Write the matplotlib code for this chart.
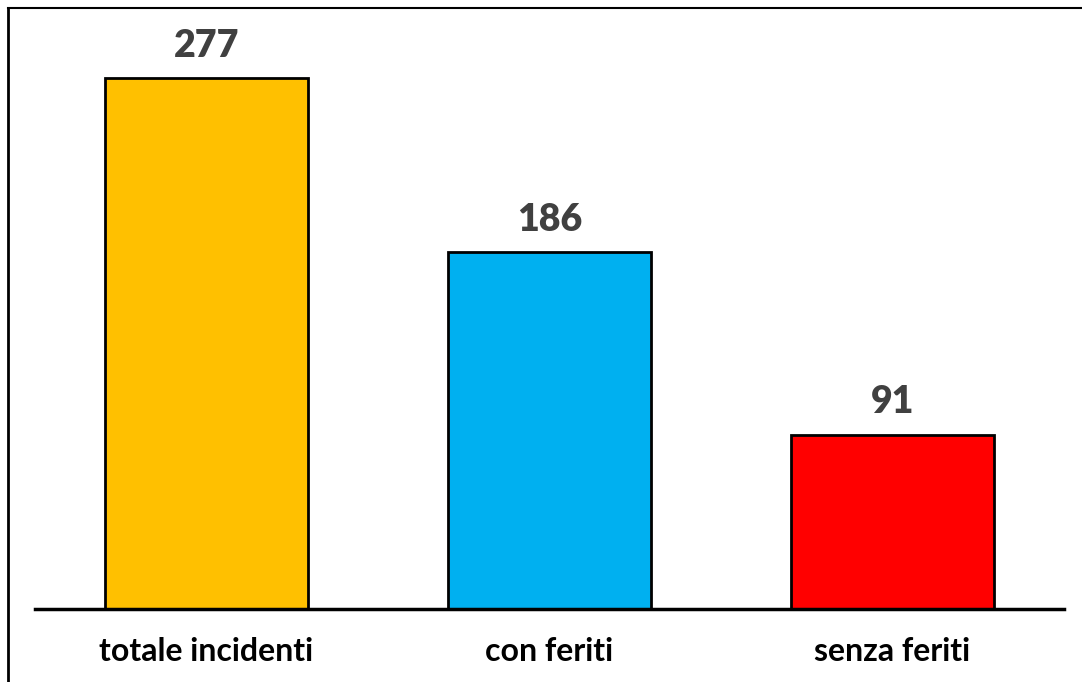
import matplotlib
matplotlib.use('Agg')
import matplotlib.pyplot as plt
from matplotlib.lines import Line2D

categories = ['totale incidenti', 'con feriti', 'senza feriti']
values = [277, 186, 91]
colors = ['#FFC000', '#00B0F0', '#FF0000']

W, H = 1082, 682
fig = plt.figure(figsize=(W / 100, H / 100), dpi=100)

# axes placed in pixel terms of the reference
x0, x1 = 35, 1064
y_base, y_top = 609, 8
ax = fig.add_axes([x0 / W, (H - y_base) / H, (x1 - x0) / W, (y_base - y_top) / H])

x = list(range(len(categories)))
ax.bar(x, values, width=0.59, color=colors, edgecolor='black', linewidth=2, zorder=2)

# 277 sits at 531 px above the baseline
ax.set_ylim(0, 277 * (y_base - y_top) / 531)
ax.set_xlim(-0.5, 2.5)

for xi, v in zip(x, values):
    ax.annotate(str(v), (xi, v), xytext=(0, 11), textcoords='offset points',
                ha='center', va='bottom', fontsize=27, fontweight='heavy',
                color='#404040', family=['Lato', 'DejaVu Sans'])

ax.set_xticks(x)
ax.set_xticklabels(categories, fontsize=23, fontweight='bold',
                   family=['Lato', 'DejaVu Sans'])
ax.tick_params(axis='x', length=0, pad=20)
ax.set_yticks([])
for s in ['left', 'right', 'top']:
    ax.spines[s].set_visible(False)
ax.spines['bottom'].set_linewidth(2.5)
ax.spines['bottom'].set_color('black')

# outer frame lines (left and top only)
fig.add_artist(Line2D([8 / W, 8 / W], [0, (H - 8) / H], color='black', lw=2,
                      transform=fig.transFigure))
fig.add_artist(Line2D([8 / W, 1], [(H - 8) / H, (H - 8) / H], color='black', lw=1.5,
                      transform=fig.transFigure))

fig.savefig('out.png', dpi=100)
